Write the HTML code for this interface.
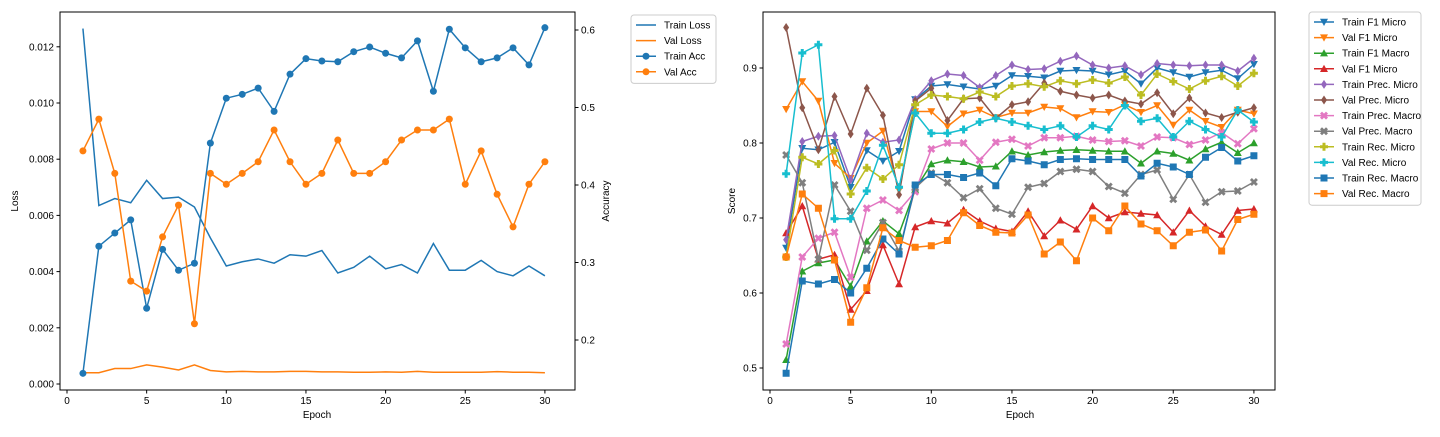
<!DOCTYPE html>
<html><head><meta charset="utf-8"><style>
body{margin:0;background:#fff;width:1440px;height:432px;overflow:hidden}
svg{font-family:"Liberation Sans","DejaVu Sans",sans-serif;font-size:10px}
</style></head><body>
<svg id="s" width="1440" height="432"></svg>
<script>
const epochs=[...Array(30)].map((_,i)=>i+1);
const trainLoss=[0.01265,0.00635,0.0066,0.00645,0.00725,0.0066,0.00665,0.0063,0.0052,0.0042,0.00435,0.00445,0.0043,0.0046,0.00455,0.00475,0.00395,0.00415,0.00455,0.0041,0.00425,0.00395,0.005,0.00405,0.00405,0.0044,0.004,0.00385,0.0042,0.00385];
const valLoss=[0.0004,0.0004,0.00055,0.00055,0.00068,0.0006,0.0005,0.00068,0.00048,0.00043,0.00045,0.00043,0.00043,0.00045,0.00045,0.00043,0.00043,0.00042,0.00042,0.00043,0.00042,0.00045,0.00042,0.00042,0.00042,0.00042,0.00044,0.00042,0.00042,0.0004];
const trainAcc=[0.157,0.321,0.338,0.355,0.241,0.317,0.29,0.299,0.454,0.512,0.517,0.525,0.495,0.543,0.563,0.56,0.559,0.572,0.578,0.57,0.564,0.586,0.521,0.601,0.577,0.559,0.564,0.577,0.555,0.603];
const valAcc=[0.444,0.485,0.415,0.276,0.263,0.333,0.374,0.221,0.415,0.401,0.415,0.43,0.471,0.43,0.401,0.415,0.458,0.415,0.415,0.43,0.458,0.471,0.471,0.485,0.401,0.444,0.388,0.346,0.401,0.43];
const lossTicks=[0,0.002,0.004,0.006,0.008,0.010,0.012];
const accTicks=[0.2,0.3,0.4,0.5,0.6];
const xTicks=[0,5,10,15,20,25,30];
const scoreTicks=[0.5,0.6,0.7,0.8,0.9];
const trainF1Micro=[0.66,0.793,0.791,0.801,0.741,0.79,0.776,0.789,0.858,0.876,0.878,0.875,0.872,0.876,0.89,0.889,0.887,0.896,0.897,0.896,0.891,0.896,0.879,0.9,0.894,0.888,0.894,0.897,0.886,0.905];
const valF1Micro=[0.845,0.882,0.856,0.773,0.753,0.8,0.816,0.737,0.842,0.842,0.822,0.839,0.844,0.834,0.84,0.84,0.848,0.846,0.834,0.842,0.841,0.851,0.841,0.85,0.824,0.844,0.829,0.821,0.844,0.839];
const trainF1Macro=[0.511,0.629,0.64,0.644,0.609,0.669,0.696,0.679,0.738,0.772,0.777,0.775,0.768,0.769,0.789,0.784,0.788,0.79,0.791,0.79,0.789,0.789,0.773,0.789,0.786,0.777,0.792,0.801,0.787,0.8];
const valF1Micro2=[0.68,0.716,0.645,0.651,0.578,0.603,0.664,0.612,0.688,0.696,0.693,0.711,0.696,0.686,0.682,0.709,0.676,0.697,0.685,0.716,0.7,0.708,0.706,0.704,0.681,0.71,0.689,0.678,0.71,0.712];
const trainPrecMicro=[0.671,0.802,0.809,0.81,0.751,0.813,0.801,0.804,0.858,0.883,0.892,0.89,0.874,0.89,0.904,0.898,0.899,0.909,0.916,0.904,0.9,0.903,0.891,0.906,0.904,0.903,0.904,0.904,0.896,0.913];
const valPrecMicro=[0.954,0.847,0.791,0.862,0.812,0.873,0.837,0.731,0.856,0.873,0.83,0.859,0.86,0.833,0.851,0.855,0.88,0.869,0.864,0.86,0.864,0.856,0.852,0.867,0.839,0.86,0.84,0.834,0.841,0.847];
const trainPrecMacro=[0.532,0.648,0.673,0.681,0.621,0.713,0.724,0.71,0.735,0.792,0.8,0.8,0.777,0.801,0.805,0.796,0.807,0.807,0.809,0.804,0.802,0.803,0.796,0.808,0.807,0.798,0.804,0.814,0.799,0.819];
const valPrecMacro=[0.784,0.747,0.645,0.744,0.709,0.657,0.694,0.656,0.74,0.76,0.747,0.727,0.739,0.713,0.705,0.741,0.746,0.762,0.765,0.762,0.742,0.733,0.758,0.764,0.725,0.758,0.721,0.735,0.736,0.748];
const trainRecMicro=[0.648,0.781,0.772,0.79,0.732,0.767,0.752,0.771,0.851,0.864,0.862,0.859,0.868,0.862,0.876,0.879,0.875,0.883,0.879,0.884,0.88,0.888,0.864,0.892,0.882,0.872,0.883,0.889,0.876,0.893];
const valRecMicro=[0.759,0.92,0.931,0.699,0.699,0.736,0.797,0.741,0.84,0.813,0.813,0.818,0.828,0.833,0.828,0.823,0.818,0.823,0.808,0.823,0.818,0.85,0.829,0.833,0.808,0.829,0.818,0.808,0.844,0.828];
const trainRecMacro=[0.493,0.616,0.612,0.618,0.6,0.633,0.672,0.652,0.744,0.758,0.758,0.754,0.76,0.743,0.779,0.776,0.771,0.778,0.779,0.778,0.778,0.778,0.756,0.773,0.768,0.758,0.781,0.794,0.776,0.783];
const valRecMacro=[0.648,0.732,0.713,0.644,0.561,0.607,0.687,0.67,0.661,0.663,0.67,0.707,0.69,0.681,0.68,0.704,0.652,0.668,0.643,0.7,0.683,0.716,0.692,0.683,0.663,0.681,0.684,0.656,0.698,0.705];

const S=document.getElementById('s');const NS='http://www.w3.org/2000/svg';
function mk(t,a,p){const e=document.createElementNS(NS,t);for(const k in a)e.setAttribute(k,a[k]);(p||S).appendChild(e);return e;}
function txt(x,y,s,anchor,p,rot){const e=mk('text',{x:x,y:y,'text-anchor':anchor||'middle',fill:'#000'},p);if(rot)e.setAttribute('transform',`rotate(-90 ${x} ${y})`);e.textContent=s;return e;}
function marker(type,x,y,c,p){
  const r=4;let e;
  if(type==='o')e=mk('circle',{cx:x,cy:y,r:3.5,fill:c},p);
  else if(type==='v')e=mk('polygon',{points:`${x-r},${y-r*0.8} ${x+r},${y-r*0.8} ${x},${y+r}`,fill:c},p);
  else if(type==='^')e=mk('polygon',{points:`${x-r},${y+r*0.8} ${x+r},${y+r*0.8} ${x},${y-r}`,fill:c},p);
  else if(type==='d')e=mk('polygon',{points:`${x},${y-r-0.5} ${x+3},${y} ${x},${y+r+0.5} ${x-3},${y}`,fill:c},p);
  else if(type==='s')e=mk('rect',{x:x-3.5,y:y-3.5,width:7,height:7,fill:c},p);
  else if(type==='P')e=mk('path',{d:`M${x-1.5},${y-4}h3v2.5h2.5v3h-2.5v2.5h-3v-2.5h-2.5v-3h2.5z`,fill:c},p);
  else if(type==='X')e=mk('path',{d:`M${x-4},${y-2} l2,-2 l2,2 l2,-2 l2,2 l-2,2 l2,2 l-2,2 l-2,-2 l-2,2 l-2,-2 l2,-2z`,fill:c},p);
  return e;
}
// ---------- Left chart ----------
const L={x0:60,x1:575,y0:12,y1:390};
const lx=e=>67+e*15.93;
const ly=v=>384-v/0.002*56.2;
const ay=v=>30+(0.6-v)*775;
const gl=mk('g',{});
function series(g,vals,xf,yf,c,m,name){
  const sg=mk('g',{},g);
  mk('polyline',{points:vals.map((v,i)=>xf(epochs[i])+','+yf(v)).join(' '),fill:'none',stroke:c,'stroke-width':1.5},sg);
  if(m)vals.forEach((v,i)=>marker(m,xf(epochs[i]),yf(v),c,sg));
}
series(gl,trainLoss,lx,ly,'#1f77b4',null,'train-loss-line');
series(gl,valLoss,lx,ly,'#ff7f0e',null,'val-loss-line');
series(gl,trainAcc,lx,ay,'#1f77b4','o','train-acc-line');
series(gl,valAcc,lx,ay,'#ff7f0e','o','val-acc-line');
mk('rect',{x:L.x0,y:L.y0,width:L.x1-L.x0,height:L.y1-L.y0,fill:'none',stroke:'#000','stroke-width':1},gl);
xTicks.forEach(t=>{const x=lx(t);mk('line',{x1:x,x2:x,y1:L.y1,y2:L.y1+3.5,stroke:'#000'},gl);txt(x,404,String(t),'middle',gl);});
lossTicks.forEach(t=>{const y=ly(t);mk('line',{x1:L.x0,x2:L.x0-3.5,y1:y,y2:y,stroke:'#000'},gl);txt(L.x0-6,y+3.5,t.toFixed(3),'end',gl);});
accTicks.forEach(t=>{const y=ay(t);mk('line',{x1:L.x1,x2:L.x1+3.5,y1:y,y2:y,stroke:'#000'},gl);txt(L.x1+6,y+3.5,t.toFixed(1),'start',gl);});
txt(317,418,'Epoch','middle',gl);
txt(18,201,'Loss','middle',gl,true);
txt(609,201,'Accuracy','middle',gl,true);
function legend(g,x,y,items,w){
  const lg=mk('g',{},g);
  mk('rect',{x:x,y:y,width:w,height:items.length*15.6+6,rx:3,fill:'#fff',stroke:'#ccc'},lg);
  items.forEach((it,i)=>{const yy=y+10+i*15.6;
    const eg=mk('g',{},lg);
    mk('line',{x1:x+5,x2:x+25,y1:yy,y2:yy,stroke:it[1],'stroke-width':1.5},eg);
    if(it[2])marker(it[2],x+15,yy,it[1],eg);
    txt(x+33,yy+3.5,it[0],'start',eg);});
}
legend(gl,631,15,[['Train Loss','#1f77b4'],['Val Loss','#ff7f0e'],['Train Acc','#1f77b4','o'],['Val Acc','#ff7f0e','o']],85);
// ---------- Right chart ----------
const R={x0:763,x1:1275,y0:12,y1:390};
const rx=e=>770+e*16.13;
const ry=v=>68+(0.9-v)*750;
const gr=mk('g',{});
const rs=[['Train F1 Micro',trainF1Micro,'#1f77b4','v'],['Val F1 Micro',valF1Micro,'#ff7f0e','v'],['Train F1 Macro',trainF1Macro,'#2ca02c','^'],['Val F1 Micro',valF1Micro2,'#d62728','^'],['Train Prec. Micro',trainPrecMicro,'#9467bd','d'],['Val Prec. Micro',valPrecMicro,'#8c564b','d'],['Train Prec. Macro',trainPrecMacro,'#e377c2','X'],['Val Prec. Macro',valPrecMacro,'#7f7f7f','X'],['Train Rec. Micro',trainRecMicro,'#bcbd22','P'],['Val Rec. Micro',valRecMicro,'#17becf','P'],['Train Rec. Macro',trainRecMacro,'#1f77b4','s'],['Val Rec. Macro',valRecMacro,'#ff7f0e','s']];
const clip=mk('clipPath',{id:'rc'});mk('rect',{x:R.x0,y:R.y0,width:R.x1-R.x0,height:R.y1-R.y0},clip);
const plotR=mk('g',{'clip-path':'url(#rc)'},gr);
rs.forEach(r=>series(plotR,r[1],rx,ry,r[2],r[3],r[0].toLowerCase().replace(/[^a-z0-9]+/g,'-')+'line'));
mk('rect',{x:R.x0,y:R.y0,width:R.x1-R.x0,height:R.y1-R.y0,fill:'none',stroke:'#000'},gr);
xTicks.forEach(t=>{const x=rx(t);mk('line',{x1:x,x2:x,y1:R.y1,y2:R.y1+3.5,stroke:'#000'},gr);txt(x,404,String(t),'middle',gr);});
scoreTicks.forEach(t=>{const y=ry(t);mk('line',{x1:R.x0,x2:R.x0-3.5,y1:y,y2:y,stroke:'#000'},gr);txt(R.x0-6,y+3.5,t.toFixed(1),'end',gr);});
txt(1020,418,'Epoch','middle',gr);
txt(735,201,'Score','middle',gr,true);
legend(gr,1309,12,rs.map(r=>[r[0],r[2],r[3]]),112);
</script>
</body></html>
